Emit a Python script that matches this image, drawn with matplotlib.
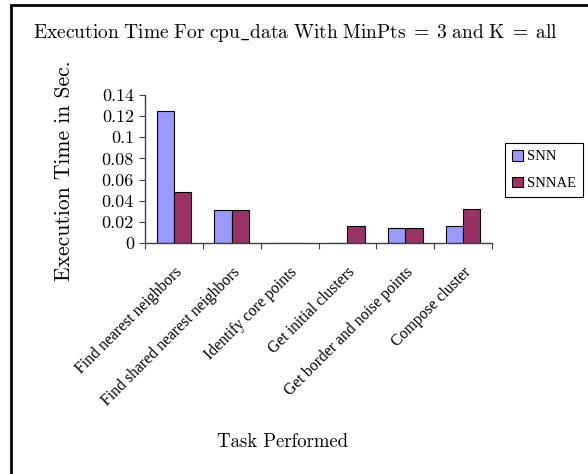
import matplotlib.pyplot as plt
import numpy as np
from matplotlib.patches import Rectangle

tareas = ["Find nearest neighbors", "Find shared nearest neighbors",
          "Identify core points", "Get initial clusters",
          "Get border and noise points", "Compose cluster"]
snn = [0.125, 0.031, 0.0, 0.0, 0.0145, 0.016]
snnae = [0.048, 0.031, 0.0, 0.016, 0.0145, 0.032]
yticks = [0, 0.02, 0.04, 0.06, 0.08, 0.1, 0.12, 0.14]

plt.rcParams['axes.formatter.use_mathtext'] = True
plt.rcParams['mathtext.fontset'] = 'cm'

fig = plt.figure(figsize=(5.88, 4.74), dpi=100)
ax = fig.add_axes([145/588, 1 - 243/474, 347/588, 148/474])

x = np.arange(len(tareas))
w = 0.3
ax.bar(x - w/2, snn, w, color='#9999FF', edgecolor='black', linewidth=0.8, label='SNN')
ax.bar(x + w/2, snnae, w, color='#993366', edgecolor='black', linewidth=0.8, label='SNNAE')

ax.set_xlim(-0.5, len(tareas) - 0.5)
ax.set_ylim(0, 0.14)

# ticks en los bordes de cada categoria
ax.set_xticks(np.arange(len(tareas) + 1) - 0.5)
ax.set_xticklabels([])
ax.set_xticks(x, minor=True)
ax.set_xticklabels(tareas, minor=True, rotation=45, ha='right', va='top',
                   rotation_mode='anchor', family='Liberation Serif', fontsize=11.3)
ax.tick_params(axis='x', which='minor', length=0, pad=15)
ax.tick_params(axis='x', which='major', length=4, color='#404040')

ax.set_yticks(yticks)
ax.set_yticklabels(['%g' % v for v in yticks], family='cmr10', fontsize=13)
ax.tick_params(axis='y', length=4, color='#404040', pad=4)

for s in ['top', 'right']:
    ax.spines[s].set_visible(False)
for s in ['left', 'bottom']:
    ax.spines[s].set_color('#404040')
    ax.spines[s].set_linewidth(1.0)

fig.text(64/588, 1 - 171/474, "Execution Time in Sec.", family='cmr10', fontsize=15.5,
         rotation=90, ha='center', va='center')
fig.text(283/588, 1 - 442/474, "Task Performed", family='cmr10', fontsize=13.5,
         ha='center', va='center')
fig.text(33/588, 1 - 33/474,
         r"$\mathrm{Execution\ Time\ For\ cpu\_data\ With\ MinPts\;=\;3\ and\ K\;=\;all}$",
         fontsize=14.0, ha='left', va='center')

leg = fig.legend(loc='upper left', bbox_to_anchor=(505/588, 1 - 143/474),
                 prop={'family': 'Liberation Serif', 'size': 10.5},
                 fancybox=False, edgecolor='black', framealpha=1,
                 handlelength=0.7, handleheight=0.7, handletextpad=0.3,
                 borderpad=0.5, labelspacing=0.9, borderaxespad=0)
leg.get_frame().set_linewidth(0.8)

# marco de la figura
fig.patches.append(Rectangle((11/588, -0.1), 1.2, 1 - 5/474 + 0.1, transform=fig.transFigure,
                             fill=False, edgecolor='black', linewidth=2))

fig.savefig('out.png', dpi=100)
